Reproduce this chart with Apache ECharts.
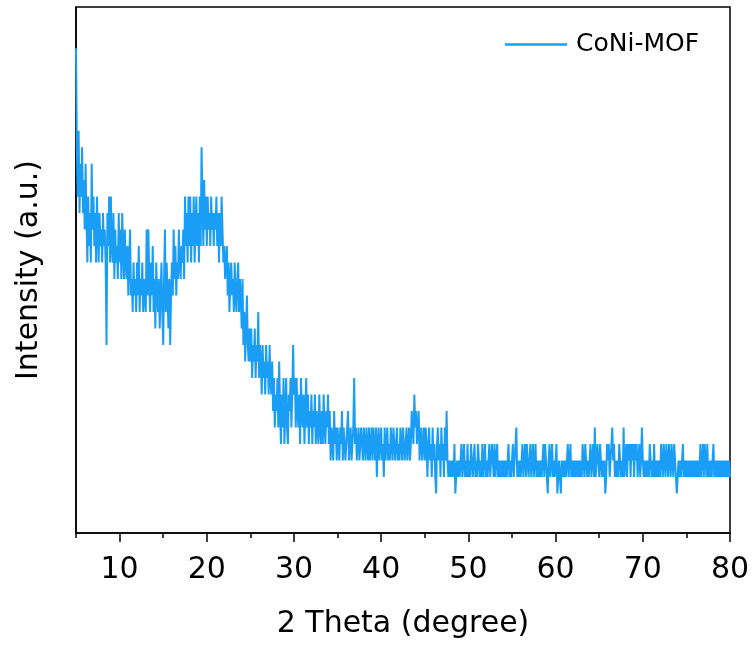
<!DOCTYPE html>
<html>
<head>
<meta charset="utf-8">
<script src="https://cdn.jsdelivr.net/npm/echarts@6/dist/echarts.min.js"></script>
<style>
    html, body { margin: 0; padding: 0; background: #fff; }
    #chart { width: 753px; height: 651px; }
</style>
</head>
<body>
<div id="chart"></div>
<script>
// XRD pattern, counts every 0.1 degree (one row = one degree)
const seriesName = 'CoNi-MOF'
const thetaStart = 5
const thetaStep = 0.1

// 5 - 20 deg
const counts5to20 = [
    30, 24, 21, 25, 20, 23, 21, 24, 20, 22,
    19, 23, 20, 17, 21, 18, 20, 17, 23, 19,
    21, 18, 20, 17, 21, 19, 17, 20, 18, 19,
    17, 20, 18, 19, 17, 12, 20, 18, 21, 17,
    21, 18, 17, 20, 16, 19, 17, 18, 16, 20,
    17, 19, 16, 20, 18, 16, 19, 17, 16, 18,
    15, 17, 19, 15, 16, 14, 17, 15, 16, 14,
    17, 15, 18, 14, 16, 15, 17, 14, 16, 15,
    14, 19, 15, 19, 16, 14, 17, 15, 18, 14,
    16, 13, 17, 15, 14, 16, 13, 15, 17, 14,
    12, 16, 19, 14, 17, 15, 13, 16, 12, 15,
    17, 15, 19, 16, 18, 15, 17, 16, 19, 17,
    16, 18, 17, 19, 16, 21, 18, 20, 17, 21,
    18, 21, 17, 20, 18, 21, 17, 19, 21, 18,
    20, 17, 21, 18, 24, 21, 18, 22, 19, 21
]
// 20 - 35 deg
const counts20to35 = [
    18, 21, 19, 20, 18, 21, 19, 20, 18, 20,
    19, 21, 18, 20, 17, 20, 18, 21, 19, 17,
    18, 16, 17, 18, 15, 17, 14, 16, 17, 15,
    16, 14, 17, 15, 14, 16, 17, 14, 16, 15,
    13, 16, 12, 14, 11, 13, 15, 12, 11, 13,
    11, 13, 10, 12, 11, 13, 10, 12, 11, 14,
    10, 12, 11, 9, 12, 10, 11, 9, 12, 10,
    11, 9, 12, 10, 9, 11, 8, 10, 7, 9,
    8, 10, 7, 11, 8, 6, 9, 7, 10, 6,
    8, 10, 7, 6, 9, 8, 10, 7, 9, 12,
    9, 10, 7, 10, 8, 7, 9, 6, 10, 8,
    7, 9, 6, 8, 10, 7, 9, 6, 8, 7,
    9, 6, 8, 7, 9, 6, 8, 7, 6, 9,
    7, 6, 8, 6, 9, 7, 6, 8, 7, 9,
    6, 8, 5, 7, 6, 5, 8, 6, 7, 5
]
// 35 - 50 deg
const counts35to50 = [
    7, 6, 5, 7, 6, 8, 5, 7, 6, 5,
    6, 7, 8, 5, 6, 7, 5, 6, 7, 10,
    6, 7, 5, 6, 7, 5, 6, 7, 6, 5,
    7, 6, 5, 7, 6, 5, 7, 5, 6, 7,
    5, 7, 6, 5, 7, 4, 6, 7, 5, 6,
    7, 5, 6, 4, 7, 5, 6, 7, 5, 6,
    5, 7, 6, 5, 7, 6, 5, 6, 7, 5,
    6, 5, 7, 6, 5, 7, 6, 5, 6, 7,
    5, 6, 7, 5, 6, 8, 7, 6, 9, 7,
    8, 6, 7, 8, 5, 6, 7, 5, 6, 7,
    5, 7, 6, 4, 6, 7, 5, 6, 4, 7,
    5, 6, 4, 3, 6, 7, 5, 6, 4, 7,
    5, 6, 4, 7, 5, 8, 5, 4, 5, 4,
    5, 4, 5, 4, 6, 3, 4, 5, 4, 5,
    4, 5, 6, 4, 5, 6, 4, 5, 4, 6
]
// 50 - 65 deg
const counts50to65 = [
    4, 5, 4, 6, 5, 4, 5, 6, 4, 5,
    4, 6, 5, 4, 5, 4, 6, 4, 5, 6,
    4, 5, 4, 5, 6, 4, 5, 6, 5, 4,
    6, 4, 5, 6, 4, 5, 4, 5, 4, 5,
    4, 5, 4, 5, 4, 5, 6, 4, 5, 4,
    5, 6, 4, 5, 6, 7, 4, 5, 4, 5,
    4, 5, 6, 4, 5, 6, 4, 6, 5, 4,
    5, 6, 4, 5, 6, 4, 5, 6, 4, 5,
    4, 5, 4, 5, 4, 5, 6, 4, 6, 5,
    4, 3, 5, 6, 4, 5, 6, 4, 5, 4,
    5, 6, 3, 4, 5, 4, 3, 5, 4, 5,
    4, 5, 4, 5, 6, 4, 5, 6, 4, 5,
    4, 5, 4, 5, 4, 5, 4, 5, 4, 5,
    4, 6, 5, 4, 6, 5, 4, 5, 4, 5,
    6, 4, 5, 6, 4, 7, 4, 5, 6, 5
]
// 65 - 80 deg
const counts65to80 = [
    4, 6, 5, 4, 5, 4, 5, 3, 4, 6,
    5, 6, 4, 5, 6, 7, 5, 6, 4, 5,
    4, 5, 4, 6, 5, 4, 5, 4, 7, 4,
    5, 6, 4, 6, 5, 6, 4, 6, 5, 6,
    4, 6, 5, 6, 4, 5, 6, 4, 5, 7,
    5, 4, 5, 4, 5, 4, 5, 4, 6, 5,
    4, 5, 4, 6, 4, 5, 4, 5, 4, 5,
    4, 6, 5, 4, 6, 5, 4, 6, 5, 4,
    6, 5, 4, 6, 5, 4, 6, 5, 4, 3,
    4, 5, 4, 5, 4, 5, 6, 4, 5, 4,
    5, 4, 5, 4, 5, 4, 5, 4, 5, 4,
    5, 4, 5, 4, 5, 4, 6, 4, 5, 6,
    4, 6, 5, 4, 6, 4, 5, 4, 5, 4,
    5, 6, 4, 5, 4, 5, 4, 5, 4, 5,
    4, 5, 4, 5, 4, 5, 4, 5, 4, 5,
    4
]

const majorTicks = [10, 20, 30, 40, 50, 60, 70, 80]
const minorTicks = [5, 15, 25, 35, 45, 55, 65, 75]

const counts = [].concat(counts5to20, counts20to35, counts35to50, counts50to65, counts65to80)
const points = counts.map((c, i) => [+(thetaStart + i * thetaStep).toFixed(1), c])

const font = 'DejaVu Sans'
const chart = echarts.init(document.getElementById('chart'))
chart.setOption({
    animation: false,
    grid: {
        left: 76,
        right: 23,
        top: 7,
        bottom: 118,
        show: true,
        borderColor: '#000',
        borderWidth: 1.5
    },
    legend: {
        data: [seriesName],
        left: 505,
        top: 32,
        padding: 0,
        icon: 'rect',
        itemWidth: 62,
        itemHeight: 2.5,
        textStyle: {
            fontFamily: font,
            fontSize: 25,
            color: '#000',
            padding: [0, 0, 0, 4]
        }
    },
    xAxis: [{
        type: 'value',
        min: 5,
        max: 80,
        position: 'bottom',
        name: '2 Theta (degree)',
        nameLocation: 'middle',
        nameGap: 76,
        nameTextStyle: {
            fontFamily: font,
            fontSize: 30,
            color: '#000'
        },
        axisLine: {
            lineStyle: {color: '#000', width: 1.5}
        },
        axisTick: {
            customValues: majorTicks,
            length: 9,
            lineStyle: {color: '#000', width: 1.5}
        },
        axisLabel: {
            customValues: majorTicks,
            margin: 22,
            fontFamily: font,
            fontSize: 30,
            color: '#000'
        },
        splitLine: {show: false}
    }, {
        type: 'value',
        min: 5,
        max: 80,
        position: 'bottom',
        axisLine: {show: false},
        axisTick: {
            customValues: minorTicks,
            length: 5,
            lineStyle: {color: '#000', width: 1.5}
        },
        axisLabel: {show: false},
        splitLine: {show: false}
    }],
    yAxis: {
        type: 'value',
        min: 0.6,
        max: 32.5,
        name: 'Intensity (a.u.)',
        nameLocation: 'middle',
        nameGap: 32,
        nameTextStyle: {
            fontFamily: font,
            fontSize: 30,
            color: '#000'
        },
        axisLine: {
            show: true,
            lineStyle: {color: '#000', width: 1.5}
        },
        axisTick: {show: false},
        axisLabel: {show: false},
        splitLine: {show: false}
    },
    series: [{
        name: seriesName,
        type: 'line',
        data: points,
        symbol: 'none',
        color: '#1a9ef5',
        lineStyle: {
            color: '#1a9ef5',
            width: 2
        }
    }]
})
</script>
</body>
</html>
